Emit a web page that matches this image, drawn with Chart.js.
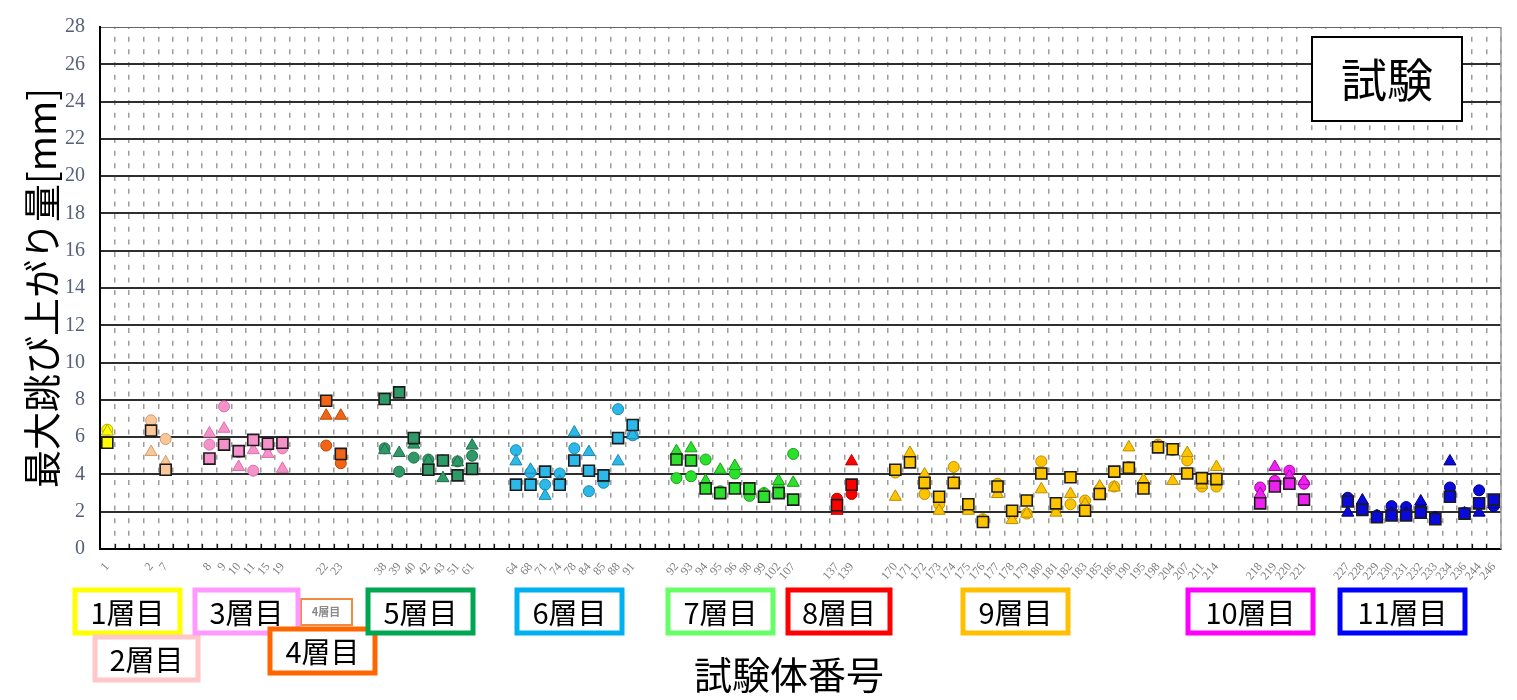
<!DOCTYPE html>
<html lang="ja">
<head>
<meta charset="utf-8">
<title>最大跳び上がり量</title>
<script src="https://cdn.jsdelivr.net/npm/chart.js@4.4.1/dist/chart.umd.min.js"></script>
<style>
  html, body { margin: 0; padding: 0; background: #fff; }
</style>
</head>
<body>
<canvas id="canvas" width="1517" height="700"></canvas>
<script>
// 96 slots on the x axis, specimens grouped by layer with empty slots between groups
const SLOTS = 96;

const layerNames = ['1層目', '2層目', '3層目', '4層目', '5層目', '6層目', '7層目', '8層目', '9層目', '10層目', '11層目'];
const layerFirstSlot = [0, 3, 7, 15, 19, 28, 39, 50, 54, 79, 85];
const layerSize = [1, 2, 6, 2, 7, 9, 9, 2, 23, 4, 11];

const specimenNo = [
  '1',
  '2', '7',
  '8', '9', '10', '11', '15', '19',
  '22', '23',
  '38', '39', '40', '42', '43', '51', '61',
  '64', '68', '71', '74', '78', '84', '85', '88', '91',
  '92', '93', '94', '95', '96', '98', '99', '102', '107',
  '137', '139',
  '170', '171', '172', '173', '174', '175', '176', '177', '178', '179', '180', '181', '182', '183', '185', '186', '190', '195', '198', '204', '207', '211', '214',
  '218', '219', '220', '221',
  '227', '228', '229', '230', '231', '232', '233', '234', '236', '244', '246'
];

// max jump-up [mm], three measurements per specimen
const squareMm = [
  5.7,
  6.35, 4.25,
  4.85, 5.6, 5.25, 5.85, 5.65, 5.7,
  7.95, 5.1,
  8.05, 8.4, 5.95, 4.25, 4.75, 3.95, 4.3,
  3.45, 3.45, 4.15, 3.45, 4.75, 4.2, 3.95, 5.95, 6.65,
  4.8, 4.75, 3.25, 3.0, 3.25, 3.25, 2.8, 3.0, 2.65,
  2.35, 3.45,
  4.25, 4.65, 3.55, 2.8, 3.55, 2.4, 1.45, 3.35, 2.05, 2.6, 4.05, 2.45, 3.85, 2.05, 2.95, 4.15, 4.35, 3.25, 5.45, 5.35, 4.05, 3.8, 3.75,
  2.45, 3.35, 3.5, 2.65,
  2.55, 2.1, 1.7, 1.8, 1.8, 1.95, 1.6, 2.8, 1.9, 2.45, 2.65
];
const circleMm = [
  6.4,
  6.9, 5.9,
  5.6, 7.65, 5.2, 4.2, 5.5, 5.4,
  5.55, 4.6,
  5.4, 4.15, 4.9, 4.8, 4.75, 4.7, 5.0,
  5.3, 4.1, 3.45, 4.05, 5.4, 3.1, 3.55, 7.5, 6.1,
  3.8, 3.9, 4.8, 3.1, 4.05, 2.85, 3.0, 3.3, 5.1,
  2.7, 2.95,
  4.1, 4.8, 2.95, 2.4, 4.4, 2.2, 1.6, 3.5, 1.8, 1.9, 4.7, 2.2, 2.4, 2.6, 3.2, 3.35, 4.4, 3.5, 5.6, 5.3, 4.75, 3.35, 3.35,
  3.3, 3.65, 4.2, 3.5,
  2.75, 2.3, 1.8, 2.3, 2.25, 2.2, 1.7, 3.3, 1.95, 3.15, 2.3
];
const triangleMm = [
  6.3,
  5.2, 4.65,
  6.2, 6.45, 4.4, 5.3, 5.1, 4.3,
  7.15, 7.15,
  5.3, 5.15, 5.6, 4.7, 3.8, 4.65, 5.55,
  4.7, 4.25, 2.85, 3.6, 6.25, 5.2, 3.8, 4.7, 6.1,
  5.25, 5.4, 3.65, 4.25, 4.45, 3.1, 2.9, 3.65, 3.55,
  2.05, 4.7,
  2.8, 5.15, 4.0, 2.05, 3.6, 2.05, 1.5, 2.95, 1.55, 1.9, 3.2, 1.95, 2.95, 2.4, 3.35, 3.3, 5.45, 3.7, 5.5, 3.65, 5.15, 3.45, 4.4,
  2.95, 4.4, 3.9, 3.65,
  1.95, 2.6, 1.75, 1.9, 1.9, 2.55, 1.65, 4.7, 1.9, 1.95, 2.4
];

const yTicks = [0, 2, 4, 6, 8, 10, 12, 14, 16, 18, 20, 22, 24, 26, 28];

// marker fill / outline per layer
const markFill = ['#ffff00', '#f9c79a', '#f592ca', '#f26418', '#2f9a68', '#2cb8e8', '#2ee02e', '#ff0000', '#ffc400', '#ee22ee', '#0a0adc'];
const markEdge = ['#b8aa00', '#d49a6a', '#d870a8', '#b84800', '#1f6e48', '#1a88b0', '#17a017', '#b80000', '#b88e00', '#a800a8', '#00007a'];
// frame colours of the layer boxes under the axis
const boxColor = ['#ffff00', '#ffc7c7', '#ff99ff', '#ff6600', '#00a650', '#00b0f0', '#66ff66', '#ff0000', '#ffc000', '#ff00ff', '#0000ff'];

// spread the grouped values over the slots
const slotLabel = new Array(SLOTS).fill('');
const slotLayer = new Array(SLOTS).fill(0);
const sqData = new Array(SLOTS).fill(null);
const ciData = new Array(SLOTS).fill(null);
const trData = new Array(SLOTS).fill(null);
let k = 0;
layerFirstSlot.forEach((first, L) => {
  for (let j = 0; j < layerSize[L]; j++) {
    const s = first + j;
    slotLabel[s] = specimenNo[k];
    slotLayer[s] = L;
    sqData[s] = squareMm[k];
    ciData[s] = circleMm[k];
    trData[s] = triangleMm[k];
    k++;
  }
});
const fills = slotLayer.map(L => markFill[L]);
const edges = slotLayer.map(L => markEdge[L]);

const JP = '"Noto Sans CJK JP", "Noto Sans", sans-serif';

const extras = {
  id: 'extras',
  afterDraw(chart) {
    const { ctx, chartArea: a, scales: { x } } = chart;
    ctx.save();

    // right frame of the plot
    ctx.strokeStyle = '#9a9a9a';
    ctx.lineWidth = 1.5;
    ctx.beginPath();
    ctx.moveTo(a.right, a.top);
    ctx.lineTo(a.right, a.bottom);
    ctx.stroke();

    // small inner tick marks on the x axis
    const w = (x.right - x.left) / SLOTS;
    ctx.strokeStyle = '#111';
    ctx.lineWidth = 1.2;
    ctx.beginPath();
    for (let i = 1; i < SLOTS; i++) {
      const px = Math.round(x.left + i * w) + 0.5;
      ctx.moveTo(px, a.bottom - 5);
      ctx.lineTo(px, a.bottom);
    }
    ctx.stroke();

    // axis titles
    ctx.fillStyle = '#000';
    ctx.textAlign = 'center';
    ctx.textBaseline = 'middle';
    ctx.font = '38px ' + JP;
    ctx.fillText('試験体番号', 789, 675);
    ctx.save();
    ctx.translate(42, (a.top + a.bottom) / 2);
    ctx.rotate(-Math.PI / 2);
    ctx.fillText('最大跳び上がり量[mm]', 0, 0);
    ctx.restore();

    // "試験" box
    ctx.fillStyle = '#fff';
    ctx.fillRect(1312, 37, 150, 84);
    ctx.strokeStyle = '#000';
    ctx.lineWidth = 2;
    ctx.strokeRect(1312, 37, 150, 84);
    ctx.fillStyle = '#000';
    ctx.font = '46px ' + JP;
    ctx.fillText('試験', 1387, 80);

    // layer boxes
    const boxes = [
      [75, 590, 105, 43], [95, 637, 103, 43], [195, 590, 103, 43], [270, 629, 105, 44],
      [368, 590, 105, 43], [517, 590, 105, 43], [668, 590, 105, 43], [788, 590, 102, 43],
      [963, 590, 105, 43], [1188, 590, 125, 43], [1340, 590, 125, 43]
    ];
    // small leftover tag next to 3層目
    ctx.strokeStyle = '#f08a40';
    ctx.lineWidth = 2;
    ctx.strokeRect(301, 599, 51, 26);
    ctx.fillStyle = '#8a8a8a';
    ctx.font = 'bold 11px ' + JP;
    ctx.fillText('4層目', 326, 612);

    ctx.font = '29px ' + JP;
    boxes.forEach(([bx, by, bw, bh], L) => {
      ctx.fillStyle = '#fff';
      ctx.fillRect(bx, by, bw, bh);
      ctx.strokeStyle = boxColor[L];
      ctx.lineWidth = 5;
      ctx.strokeRect(bx, by, bw, bh);
      ctx.fillStyle = '#000';
      ctx.fillText(layerNames[L], bx + bw / 2, by + bh / 2 + 1);
    });

    ctx.restore();
  }
};

const ctx = document.getElementById('canvas').getContext('2d');
const myChart = new Chart(ctx, {
  type: 'line',
  data: {
    labels: slotLabel,
    datasets: [
      {
        label: '□',
        data: sqData,
        showLine: false,
        pointStyle: 'rect',
        pointRadius: 7.8,
        pointBackgroundColor: fills,
        pointBorderColor: '#1b1b1b',
        pointBorderWidth: 1.6
      },
      {
        label: '△',
        data: trData,
        showLine: false,
        pointStyle: 'triangle',
        pointRadius: 7,
        pointBackgroundColor: fills,
        pointBorderColor: edges,
        pointBorderWidth: 1
      },
      {
        label: '○',
        data: ciData,
        showLine: false,
        pointStyle: 'circle',
        pointRadius: 5.5,
        pointBackgroundColor: fills,
        pointBorderColor: edges,
        pointBorderWidth: 1
      }
    ]
  },
  options: {
    responsive: false,
    animation: false,
    layout: { padding: { top: 18, right: 16, left: 0, bottom: 0 } },
    plugins: {
      legend: { display: false },
      tooltip: { enabled: false }
    },
    scales: {
      x: {
        type: 'category',
        offset: true,
        grid: { offset: true, color: '#9c9c9c', lineWidth: 1.5, drawTicks: false },
        border: { color: '#000', width: 2, dash: [5, 7.67], dashOffset: 3 },
        ticks: {
          autoSkip: false,
          minRotation: 50,
          maxRotation: 50,
          padding: 11,
          color: '#7d7d7d',
          font: { family: '"Liberation Serif", serif', size: 12 }
        },
        afterFit: s => { s.height = 151; }
      },
      y: {
        min: yTicks[0],
        max: yTicks[yTicks.length - 1],
        afterBuildTicks: s => { s.ticks = yTicks.map(v => ({ value: v })); },
        grid: {
          color: c => (c.tick.value === 28 ? '#666' : '#2e2e2e'),
          lineWidth: c => (c.tick.value === 28 ? 1 : 2),
          drawTicks: false
        },
        border: { color: '#000', width: 2 },
        ticks: {
          padding: 15,
          color: '#56607a',
          font: { family: '"Liberation Serif", serif', size: 20 }
        },
        afterFit: s => { s.width = 100; }
      }
    }
  },
  plugins: [extras]
});
</script>
</body>
</html>
